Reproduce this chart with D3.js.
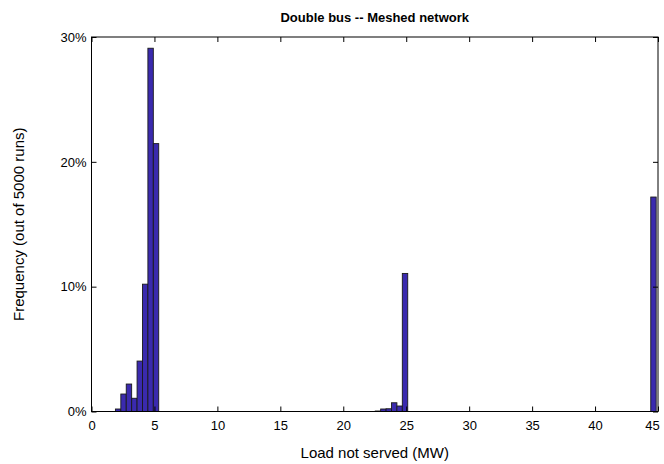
<!DOCTYPE html>
<html>
<head>
<meta charset="utf-8">
<script src="https://cdn.jsdelivr.net/npm/d3@7"></script>
<style>
  html, body { margin: 0; padding: 0; background: #fff; }
  svg { display: block; }
  text { font-family: "Liberation Sans", Arial, Helvetica, sans-serif; fill: #000; }
</style>
</head>
<body>
<svg id="chart" width="664" height="464"></svg>
<script>
// Histogram bins (centre in MW) and their share of the 5000 runs (%)
const binCenters = [2.115, 2.545, 2.975, 3.405, 3.835, 4.265, 4.695, 5.125,
                    22.755, 23.185, 23.615, 24.045, 24.475, 24.905,
                    44.64];
const frequencies = [0.2, 1.4, 2.2, 1.06, 4.04, 10.2, 29.1, 21.46,
                     0.04, 0.2, 0.22, 0.7, 0.44, 11.06,
                     17.18];
const binWidth = 0.43;
const xTicks = [0, 5, 10, 15, 20, 25, 30, 35, 40, 45];
const yTicks = [0, 10, 20, 30];
const titleText = "Double bus -- Meshed network";
const xLabelText = "Load not served (MW)";
const yLabelText = "Frequency (out of 5000 runs)";

const svg = d3.select("#chart");
const plotLeft = 91.5, plotRight = 658, plotTop = 37, plotBottom = 411.5;

const x = d3.scaleLinear().domain([0, 45]).range([plotLeft, plotRight]);
const y = d3.scaleLinear().domain([0, 30]).range([plotBottom, plotTop]);

const bins = binCenters.map((c, i) => ({ c, v: frequencies[i] }));

// bars
svg.append("g")
  .selectAll("rect")
  .data(bins)
  .join("rect")
  .attr("x", d => x(d.c - binWidth / 2))
  .attr("width", d => x(d.c + binWidth / 2) - x(d.c - binWidth / 2))
  .attr("y", d => y(d.v))
  .attr("height", d => y(0) - y(d.v))
  .attr("fill", "#3a2aae")
  .attr("stroke", "#1a1a1a")
  .attr("stroke-width", 0.9);

// axes with inward ticks on all four sides
const tickLen = 5;
const xAxisB = d3.axisBottom(x).tickValues(xTicks).tickSize(-tickLen).tickPadding(9)
  .tickFormat(d3.format("d"));
const xAxisT = d3.axisTop(x).tickValues(xTicks).tickSize(-tickLen).tickFormat("");
const yAxisL = d3.axisLeft(y).tickValues(yTicks).tickSize(-tickLen).tickPadding(5)
  .tickFormat(d => d + "%");
const yAxisR = d3.axisRight(y).tickValues(yTicks).tickSize(-tickLen).tickFormat("");

function style(g) {
  g.select(".domain").remove();
  g.selectAll(".tick line").attr("stroke", "#000").attr("stroke-width", 1);
  g.selectAll(".tick text").attr("font-size", 13)
    .attr("font-family", "Liberation Sans, Arial, sans-serif").attr("fill", "#000");
}

const gxb = svg.append("g").attr("transform", `translate(0,${plotBottom})`).call(xAxisB).call(style);
// keep the last label inside the figure edge
gxb.selectAll(".tick text").filter(d => d === 45).attr("dx", -6);
svg.append("g").attr("transform", `translate(0,${plotTop})`).call(xAxisT).call(style);
svg.append("g").attr("transform", `translate(${plotLeft},0)`).call(yAxisL).call(style);
svg.append("g").attr("transform", `translate(${plotRight},0)`).call(yAxisR).call(style);

// frame
svg.append("rect")
  .attr("x", plotLeft).attr("y", plotTop)
  .attr("width", plotRight - plotLeft).attr("height", plotBottom - plotTop)
  .attr("fill", "none").attr("stroke", "#000").attr("stroke-width", 1);

// title and axis labels
svg.append("text")
  .attr("x", (plotLeft + plotRight) / 2).attr("y", 22)
  .attr("text-anchor", "middle")
  .attr("font-size", 13).attr("font-weight", "bold")
  .text(titleText);

svg.append("text")
  .attr("x", (plotLeft + plotRight) / 2).attr("y", 458)
  .attr("text-anchor", "middle")
  .attr("font-size", 15)
  .text(xLabelText);

svg.append("text")
  .attr("transform", `translate(24,${(plotTop + plotBottom) / 2}) rotate(-90)`)
  .attr("text-anchor", "middle")
  .attr("font-size", 15)
  .text(yLabelText);
</script>
</body>
</html>
